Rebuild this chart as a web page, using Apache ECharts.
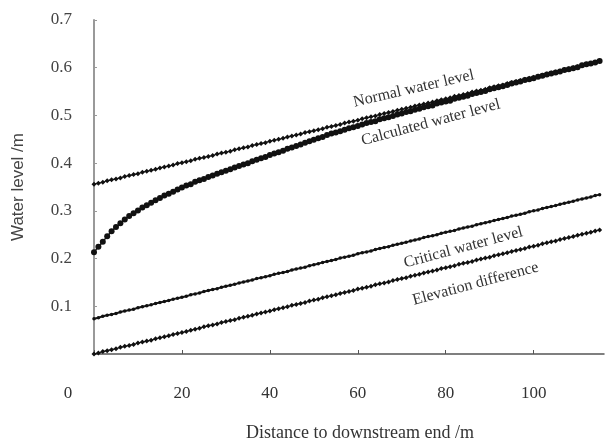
<!DOCTYPE html>
<html>
<head>
<meta charset="utf-8">
<script src="https://cdn.jsdelivr.net/npm/echarts@6/dist/echarts.min.js"></script>
<style>html,body{margin:0;padding:0;background:#fff}#c{width:605px;height:442px}</style>
</head>
<body>
<div id="c"></div>
<script>
// Distance to downstream end (m)
const distance = [0,1,2,3,4,5,6,7,8,9,10,11,12,13,14,15,16,17,18,19,20,21,22,23,24,25,26,27,28,29,30,31,32,33,34,35,36,37,38,39,40,41,42,43,44,45,46,47,48,49,50,51,52,53,54,55,56,57,58,59,60,61,62,63,64,65,66,67,68,69,70,71,72,73,74,75,76,77,78,79,80,81,82,83,84,85,86,87,88,89,90,91,92,93,94,95,96,97,98,99,100,101,102,103,104,105,106,107,108,109,110,111,112,113,114,115];

const normalLevel = [0.356,0.358,0.360,0.363,0.365,0.367,0.369,0.372,0.374,0.376,0.378,0.381,0.383,0.385,0.387,0.390,0.392,0.394,0.396,0.399,0.401,0.403,0.405,0.408,0.410,0.412,0.414,0.416,0.419,0.421,0.423,0.425,0.428,0.430,0.432,0.434,0.437,0.439,0.441,0.443,0.446,0.448,0.450,0.452,0.455,0.457,0.459,0.461,0.464,0.466,0.468,0.470,0.472,0.475,0.477,0.479,0.481,0.484,0.486,0.488,0.490,0.493,0.495,0.497,0.499,0.502,0.504,0.506,0.508,0.511,0.513,0.515,0.517,0.520,0.522,0.524,0.526,0.528,0.531,0.533,0.535,0.537,0.540,0.542,0.544,0.546,0.549,0.551,0.553,0.555,0.558,0.560,0.562,0.564,0.567,0.569,0.571,0.573,0.576,0.578,0.580,0.582,0.584,0.587,0.589,0.591,0.593,0.596,0.598,0.600,0.602,0.605,0.607,0.609,0.611,0.614];

const calculatedLevel = [0.213,0.225,0.235,0.247,0.257,0.266,0.274,0.282,0.289,0.295,0.301,0.307,0.312,0.317,0.322,0.327,0.332,0.336,0.340,0.345,0.349,0.353,0.356,0.361,0.364,0.367,0.371,0.374,0.378,0.381,0.384,0.387,0.391,0.394,0.397,0.400,0.404,0.407,0.410,0.413,0.417,0.420,0.423,0.426,0.430,0.433,0.436,0.439,0.443,0.446,0.449,0.452,0.455,0.459,0.462,0.464,0.467,0.470,0.473,0.475,0.478,0.481,0.484,0.486,0.488,0.492,0.494,0.496,0.499,0.502,0.504,0.507,0.509,0.512,0.514,0.517,0.519,0.521,0.525,0.527,0.529,0.531,0.535,0.537,0.539,0.541,0.545,0.547,0.549,0.551,0.555,0.557,0.559,0.561,0.564,0.567,0.569,0.571,0.574,0.576,0.578,0.581,0.583,0.586,0.588,0.590,0.592,0.595,0.597,0.599,0.601,0.605,0.607,0.609,0.611,0.614];

const criticalLevel = [0.074,0.076,0.079,0.081,0.083,0.085,0.088,0.090,0.092,0.094,0.097,0.099,0.101,0.103,0.106,0.108,0.110,0.112,0.115,0.117,0.119,0.121,0.124,0.126,0.128,0.131,0.133,0.135,0.137,0.140,0.142,0.144,0.146,0.149,0.151,0.153,0.155,0.158,0.160,0.162,0.164,0.167,0.169,0.171,0.173,0.176,0.178,0.180,0.182,0.185,0.187,0.189,0.192,0.194,0.196,0.198,0.201,0.203,0.205,0.207,0.210,0.212,0.214,0.216,0.219,0.221,0.223,0.225,0.228,0.230,0.232,0.234,0.237,0.239,0.241,0.244,0.246,0.248,0.250,0.253,0.255,0.257,0.259,0.262,0.264,0.266,0.268,0.271,0.273,0.275,0.277,0.280,0.282,0.284,0.286,0.289,0.291,0.293,0.295,0.298,0.300,0.302,0.305,0.307,0.309,0.311,0.314,0.316,0.318,0.320,0.323,0.325,0.327,0.329,0.332,0.334];

const elevationDiff = [0.000,0.002,0.005,0.007,0.009,0.011,0.014,0.016,0.018,0.020,0.023,0.025,0.027,0.029,0.032,0.034,0.036,0.038,0.041,0.043,0.045,0.047,0.050,0.052,0.054,0.057,0.059,0.061,0.063,0.066,0.068,0.070,0.072,0.075,0.077,0.079,0.081,0.084,0.086,0.088,0.090,0.093,0.095,0.097,0.099,0.102,0.104,0.106,0.108,0.111,0.113,0.115,0.118,0.120,0.122,0.124,0.127,0.129,0.131,0.133,0.136,0.138,0.140,0.142,0.145,0.147,0.149,0.151,0.154,0.156,0.158,0.160,0.163,0.165,0.167,0.170,0.172,0.174,0.176,0.179,0.181,0.183,0.185,0.188,0.190,0.192,0.194,0.197,0.199,0.201,0.203,0.206,0.208,0.210,0.212,0.215,0.217,0.219,0.221,0.224,0.226,0.228,0.231,0.233,0.235,0.237,0.240,0.242,0.244,0.246,0.249,0.251,0.253,0.255,0.258,0.260];

const seriesNames = ['Normal water level','Calculated water level','Critical water level','Elevation difference'];
const xTicks = [0,20,40,60,80,100];
const yTicks = [0.1,0.2,0.3,0.4,0.5,0.6,0.7];

// annotation anchors in data space: [x, y, rotation deg]
const labelAnchors = [
  [72.7, 0.556, 13],
  [76.6, 0.485, 15],
  [84.0, 0.223, 15],
  [86.8, 0.147, 15]
];

const chart = echarts.init(document.getElementById('c'), null, {renderer:'canvas'});
const serif = 'Liberation Serif, Times New Roman, serif';
const pair = arr => distance.map((d,i)=>[d, arr[i]]);

const mk = (name, arr, sym, size, lw) => ({
  name, type:'line', data: pair(arr), symbol: sym, symbolSize: size, showSymbol:true,
  lineStyle:{color:'#1a1a1a', width:lw}, itemStyle:{color:'#111', borderWidth:0},
  silent:true, animation:false, clip:false
});

chart.setOption({
  animation:false,
  backgroundColor:'#fff',
  grid:{left:94, right:1, top:20, bottom:88, containLabel:false, outerBoundsMode:'none'},
  xAxis:{
    type:'value', min:0, max:116, interval:20,
    name:'Distance to downstream end /m', nameLocation:'middle', nameGap:70,
    nameTextStyle:{fontFamily:serif, fontSize:18, color:'#333', padding:[0,0,0,22]},
    axisLine:{show:true, onZero:false, lineStyle:{color:'#555', width:1.5}},
    axisTick:{show:true, inside:true, length:4, lineStyle:{color:'#555'}},
    axisLabel:{
      margin:31, fontFamily:serif, fontSize:17, color:'#333', showMaxLabel:false,
      formatter: v => xTicks.indexOf(v) < 0 ? '' : (v === 0 ? '{z|0}' : String(v)),
      rich:{z:{fontFamily:serif, fontSize:17, color:'#333', padding:[0,52,0,0]}}
    },
    splitLine:{show:false}
  },
  yAxis:{
    type:'value', min:0, max:0.7, interval:0.1,
    name:'Water level /m', nameLocation:'middle', nameGap:67,
    nameTextStyle:{fontFamily:'Liberation Sans, Arial, sans-serif', fontSize:17, color:'#444'},
    axisLine:{show:true, onZero:false, lineStyle:{color:'#999', width:2}},
    axisTick:{show:true, inside:true, length:3, lineStyle:{color:'#999'}},
    axisLabel:{
      margin:22, fontFamily:serif, fontSize:17, color:'#444', showMinLabel:false,
      formatter: v => { const t = yTicks.find(k => Math.abs(k - v) < 1e-9); return t === undefined ? '' : t.toFixed(1); }
    },
    splitLine:{show:false}
  },
  series:[
    mk(seriesNames[0], normalLevel, 'diamond', 5, 1.2),
    mk(seriesNames[1], calculatedLevel, 'circle', 6, 1.5),
    mk(seriesNames[2], criticalLevel, 'circle', 3.5, 2),
    mk(seriesNames[3], elevationDiff, 'diamond', 5, 1.2)
  ]
});

const texts = labelAnchors.map((a, i) => {
  const p = chart.convertToPixel({xAxisIndex:0, yAxisIndex:0}, [a[0], a[1]]);
  return {
    type:'text', x:p[0], y:p[1], rotation: a[2]*Math.PI/180, silent:true,
    style:{text: seriesNames[i], fontFamily:serif, fontSize:16, fill:'#333', align:'center', verticalAlign:'middle'}
  };
});
chart.setOption({graphic: texts});
</script>
</body>
</html>
